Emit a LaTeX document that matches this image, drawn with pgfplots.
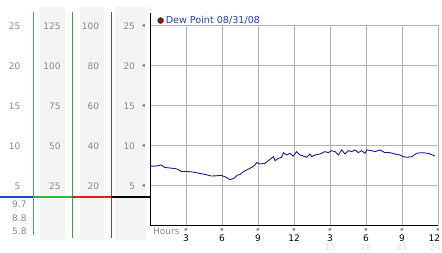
\documentclass[border=0pt]{standalone}
\usepackage{pgfplots}
\pgfplotsset{compat=1.18}
\usepackage{fontspec}
\setmainfont{DejaVu Sans}
\definecolor{lab}{HTML}{8A8A8A}
\definecolor{band}{HTML}{F4F4F4}
\definecolor{gridc}{HTML}{B4B4B4}
\definecolor{navy}{HTML}{1A1A9C}
\definecolor{legblue}{HTML}{2440C0}
\definecolor{dotred}{HTML}{8E1414}
\definecolor{faint}{HTML}{E2E2E2}
\definecolor{cyanl}{HTML}{30A0D0}
\definecolor{greenv}{HTML}{3CA03C}
\definecolor{redv}{HTML}{C03030}
\definecolor{blueh}{HTML}{1848D8}
\definecolor{greenh}{HTML}{28C028}
\definecolor{redh}{HTML}{E81C1C}
\newcommand\tx{\textcolor{black}{\raisebox{1.6pt}{\fontsize{5}{5}\selectfont ×}}}
\pgfplotstableread{
h v
0 7.45
0.5 7.47
0.94 7.6
1.22 7.3
1.5 7.25
1.78 7.2
2.1 7.15
2.33 7.05
2.61 6.78
3.0 6.8
3.4 6.75
3.72 6.68
4.0 6.6
4.28 6.5
4.6 6.42
5.1 6.22
5.5 6.25
5.94 6.3
6.3 6.1
6.64 5.78
6.85 5.85
7.06 6.0
7.3 6.35
7.5 6.4
7.78 6.76
8.06 6.98
8.47 7.3
8.75 7.6
8.89 7.9
9.17 7.72
9.58 7.81
10.0 8.31
10.28 8.64
10.42 8.14
10.69 8.43
10.97 8.56
11.11 9.14
11.39 8.85
11.67 9.06
11.94 8.72
12.22 9.27
12.5 8.85
12.78 8.72
13.06 8.56
13.33 8.98
13.47 8.64
13.75 8.85
14.17 8.98
14.58 9.27
14.86 9.14
15.14 9.39
15.42 9.27
15.7 8.85
15.97 9.48
16.25 8.98
16.53 9.39
16.81 9.27
17.08 9.48
17.36 9.14
17.64 9.39
17.92 9.06
18.06 9.48
18.47 9.39
18.75 9.27
19.17 9.48
19.58 9.14
20.0 9.14
20.42 8.98
20.83 8.85
21.11 8.64
21.39 8.56
21.81 8.64
22.22 9.06
22.64 9.14
23.2 9.06
23.75 8.72
}\dew
\begin{document}
\begin{tikzpicture}[font=\fontsize{9}{10}\selectfont]
\useasboundingbox (0pt,0pt) rectangle (442pt,253pt);
% gray bands
\fill[band] (40pt,13pt) rectangle (65pt,246pt);
\fill[band] (80pt,13pt) rectangle (104pt,246pt);
\fill[band] (115pt,13pt) rectangle (146pt,246pt);
% vertical scale lines
\draw[cyanl, line width=1pt] (33.3pt,18pt) -- (33.3pt,241pt);
\draw[greenv, line width=1pt] (72.3pt,15pt) -- (72.3pt,241pt);
\draw[redv, line width=1pt] (111.3pt,15pt) -- (111.3pt,241pt);
% horizontal coloured line
\draw[blueh, line width=2.3pt] (0pt,56.3pt) -- (33.3pt,56.3pt);
\draw[greenh, line width=2.3pt] (33.3pt,56.3pt) -- (72.3pt,56.3pt);
\draw[redh, line width=2.3pt] (72.3pt,56.3pt) -- (111.3pt,56.3pt);
\draw[black, line width=2.3pt] (111.3pt,56.3pt) -- (150pt,56.3pt);
% scale labels
\begin{scope}[every node/.style={anchor=east, inner sep=0pt, text=lab}]
\node at (20.5pt,226.3pt) {25};
\node at (20.5pt,187pt) {20};
\node at (20.5pt,146.3pt) {15};
\node at (20.5pt,107pt) {10};
\node at (20.5pt,67pt) {5};
\node at (26.7pt,49pt) {9.7};
\node at (26.7pt,34.7pt) {8.8};
\node at (26.7pt,21.3pt) {5.8};
\node at (60.7pt,226.3pt) {125};
\node at (60.7pt,187pt) {100};
\node at (60.7pt,146.3pt) {75};
\node at (60.7pt,107pt) {50};
\node at (60.7pt,67pt) {25};
\node at (99.3pt,226.3pt) {100};
\node at (99.3pt,187pt) {80};
\node at (99.3pt,146.3pt) {60};
\node at (99.3pt,107pt) {40};
\node at (99.3pt,67pt) {20};
\end{scope}
\begin{axis}[
  at={(150pt,27.2pt)}, anchor=south west, scale only axis,
  width=288pt, height=201.2pt,
  xmin=0, xmax=24, ymin=0, ymax=25.15,
  axis x line=bottom, axis y line=left,
  axis line style={-, black, line width=1pt},
  xtick={3,6,...,24}, ytick={5,10,...,25},
  grid=major, grid style={gridc, line width=0.8pt},
  tick style={draw=none},
  clip=false,
  xticklabel style={anchor=north, align=center, inner sep=0pt, yshift=0pt, font=\fontsize{9}{9}\selectfont},
  xticklabels={{\tx\\3},{\tx\\6},{\tx\\9},{\tx\\12},{\tx\\3\\[-0.5pt]\textcolor{faint}{15}},{\tx\\6\\[-0.5pt]\textcolor{faint}{18}},{\tx\\9\\[-0.5pt]\textcolor{faint}{21}},{\tx\\12\kern7.5pt\\[-0.5pt]\textcolor{faint}{24}\kern6pt}},
  yticklabel style={anchor=east, inner sep=0pt, xshift=-1.5pt, text=lab, font=\fontsize{9}{10}\selectfont},
  yticklabels={{5\hspace{7pt}\tx},{10\hspace{7pt}\tx},{15\hspace{7pt}\tx},{20\hspace{7pt}\tx},{25\hspace{7pt}\tx}},
  legend style={at={(0.025,1.02)}, anchor=west, draw=none, fill=none, inner sep=0pt,
    font=\fontsize{9.6}{10}\selectfont, text=legblue},
  legend image code/.code={\filldraw[fill=dotred, draw=black!80, line width=0.4pt] (3pt,0pt) circle (3pt);},
]
\addplot[navy, line width=0.9pt] table[x=h, y=v] {\dew};
\addlegendentry{Dew Point 08/31/08}
\draw[black, line width=1pt] (axis cs:0,25.1) -- (axis cs:0,26.6);
\node[anchor=west, text=lab, inner sep=0pt] at (axis cs:0.25,-0.74) {Hours};
\end{axis}
\end{tikzpicture}
\end{document}
